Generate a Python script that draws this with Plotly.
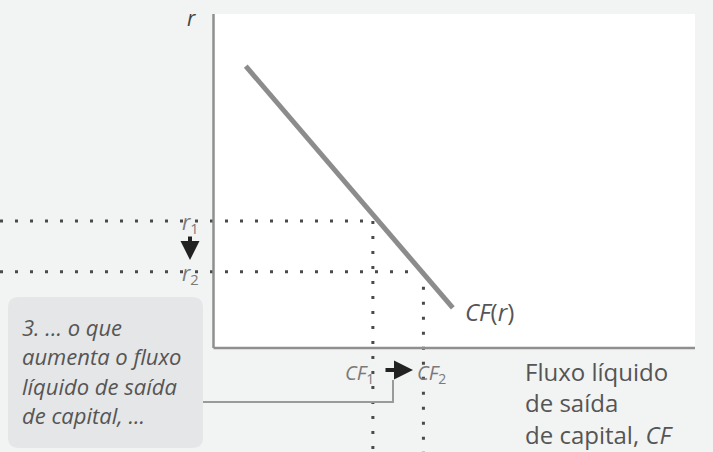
import plotly.graph_objects as go

# --- chart values -----------------------------------------------------------
# CF(r) schedule: net capital outflow against the real interest rate
cf_curve = [0.67, 4.97]
r_curve = [8.44, 1.20]

# interest rate falls from r1 to r2, outflow rises from CF1 to CF2
r_levels = [3.80, 2.28]
cf_levels = [3.31, 4.36]
r_labels = ["<i>r</i><sub>1</sub>", "<i>r</i><sub>2</sub>"]
cf_labels = ["<i>CF</i><sub>1</sub>", "<i>CF</i><sub>2</sub>"]

axis_max = 10.0

# --- canvas geometry ----------------------------------------------------------
W, H = 713, 452
OX, OY = 213.5, 348.0        # pixel position of the origin
SX, SY = 48.15, 33.4         # pixels per data unit

x_range = [-OX / SX, (W - OX) / SX]
y_range = [(OY - H) / SY, OY / SY]


def dx(p):
    return (p - OX) / SX


def dy(p):
    return (OY - p) / SY


BG = "#f2f3f3"
TEXT = "#555555"
LIGHT = "#7a7a7a"
FONT = "Open Sans"

fig = go.Figure()

# dotted guides for r1/r2 (to the left edge) and CF1/CF2 (down to the bottom)
dot = dict(color="#4a4a4a", width=3, dash="3px,12px")
for r, cf in zip(r_levels, cf_levels):
    fig.add_trace(go.Scatter(x=[x_range[0], cf], y=[r, r], mode="lines",
                             line=dot, hoverinfo="skip"))
    fig.add_trace(go.Scatter(x=[cf, cf], y=[r, y_range[0]], mode="lines",
                             line=dot, hoverinfo="skip"))

# CF(r) line
fig.add_trace(go.Scatter(x=cf_curve, y=r_curve, mode="lines",
                         line=dict(color="#8c8c8c", width=5), hoverinfo="skip"))

shapes = []
# white plotting panel
shapes.append(dict(type="rect", xref="x", yref="y", x0=0, x1=axis_max,
                   y0=0, y1=axis_max, fillcolor="white", line=dict(width=0),
                   layer="below"))
# axes
shapes.append(dict(type="line", xref="x", yref="y", x0=0, x1=0, y0=0,
                   y1=axis_max, line=dict(color="#8f8f8f", width=2.5)))
shapes.append(dict(type="line", xref="x", yref="y", x0=0, x1=axis_max,
                   y0=0, y1=0, line=dict(color="#8f8f8f", width=2.5)))

# rounded call-out box
bx0, bx1, by0, by1, rad = 8, 203, 297, 448, 11
path = (f"M {dx(bx0 + rad)},{dy(by0)} L {dx(bx1 - rad)},{dy(by0)} "
        f"Q {dx(bx1)},{dy(by0)} {dx(bx1)},{dy(by0 + rad)} "
        f"L {dx(bx1)},{dy(by1 - rad)} Q {dx(bx1)},{dy(by1)} {dx(bx1 - rad)},{dy(by1)} "
        f"L {dx(bx0 + rad)},{dy(by1)} Q {dx(bx0)},{dy(by1)} {dx(bx0)},{dy(by1 - rad)} "
        f"L {dx(bx0)},{dy(by0 + rad)} Q {dx(bx0)},{dy(by0)} {dx(bx0 + rad)},{dy(by0)} Z")
shapes.append(dict(type="path", xref="x", yref="y", path=path,
                   fillcolor="#e5e6e7", line=dict(width=0), layer="below"))
# connector from the box to CF1
shapes.append(dict(type="path", xref="x", yref="y",
                   path=f"M {dx(bx1)},{dy(402)} L {dx(393)},{dy(402)} L {dx(393)},{dy(380)}",
                   line=dict(color="#9a9a9a", width=2)))

ann = []
# axis title r
ann.append(dict(x=dx(191), y=dy(18), xref="x", yref="y", text="<i>r</i>",
                showarrow=False, font=dict(family=FONT, size=21, color="#444")))
# r1, r2
for r, lab in zip(r_levels, r_labels):
    ann.append(dict(x=dx(190), y=r, xref="x", yref="y", text=lab, showarrow=False,
                    yshift=-2, font=dict(family=FONT, size=21, color=LIGHT)))
# CF1, CF2
ann.append(dict(x=dx(376), y=dy(373), xref="x", yref="y", text=cf_labels[0],
                xanchor="right", showarrow=False,
                font=dict(family=FONT, size=20, color=LIGHT)))
ann.append(dict(x=dx(415), y=dy(373), xref="x", yref="y", text=cf_labels[1],
                xanchor="left", showarrow=False,
                font=dict(family=FONT, size=20, color=LIGHT)))
# curve label
ann.append(dict(x=dx(463), y=r_curve[1], xref="x", yref="y", text="<i>CF</i>(<i>r</i>)",
                xanchor="left", yanchor="middle", yshift=-4, showarrow=False,
                font=dict(family=FONT, size=24, color=TEXT)))
# horizontal axis title
for i, line in enumerate(["Fluxo líquido", "de saída", "de capital, <i>CF</i>"]):
    ann.append(dict(x=dx(523), y=dy(371 + 31.5 * i), xref="x", yref="y", text=line,
                    xanchor="left", showarrow=False,
                    font=dict(family=FONT, size=24, color=TEXT)))
# call-out text
for i, line in enumerate(["3. ... o que", "aumenta o fluxo", "líquido de saída",
                          "de capital, ..."]):
    ann.append(dict(x=dx(20), y=dy(327 + 29.3 * i), xref="x", yref="y",
                    text=f"<i>{line}</i>", xanchor="left", showarrow=False,
                    font=dict(family=FONT, size=22, color=TEXT)))
# arrows: rate falls, outflow rises
ann.append(dict(x=dx(190), y=dy(260), ax=dx(190), ay=dy(235), xref="x", yref="y",
                axref="x", ayref="y", text="", showarrow=True, arrowhead=2,
                arrowsize=0.95, arrowwidth=4, arrowcolor="#222"))
ann.append(dict(x=dx(413), y=dy(370), ax=dx(384), ay=dy(370), xref="x", yref="y",
                axref="x", ayref="y", text="", showarrow=True, arrowhead=2,
                arrowsize=0.95, arrowwidth=4, arrowcolor="#222"))

fig.update_layout(
    width=W, height=H, margin=dict(l=0, r=0, t=0, b=0),
    paper_bgcolor=BG, plot_bgcolor=BG, showlegend=False,
    xaxis=dict(range=x_range, visible=False, fixedrange=True),
    yaxis=dict(range=y_range, visible=False, fixedrange=True),
    shapes=shapes, annotations=ann,
)

fig.write_html("out.html")
